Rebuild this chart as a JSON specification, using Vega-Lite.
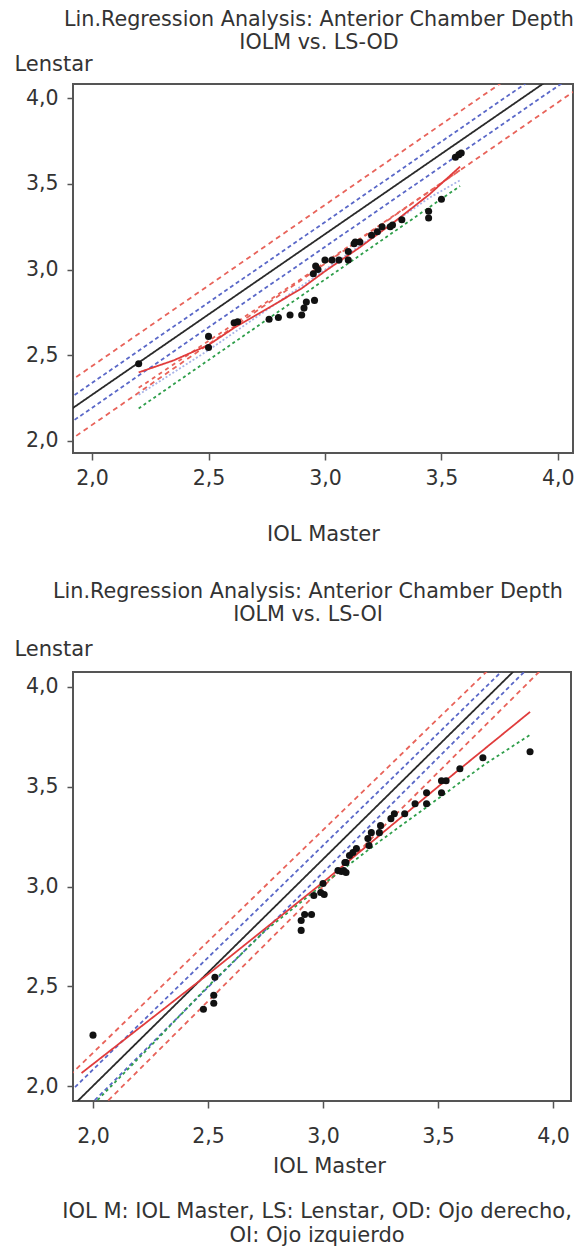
{
  "$schema": "https://vega.github.io/schema/vega-lite/v6.json",
  "background": "white",
  "padding": {"left": 13, "top": 8, "right": 5, "bottom": 3},
  "spacing": 35,
  "datasets": {
    "od_lines": [
      {"line": "PI upper", "x": 1.9, "y": 2.343}, {"line": "PI upper", "x": 4.1, "y": 4.411},
      {"line": "CI upper", "x": 1.9, "y": 2.245}, {"line": "CI upper", "x": 4.1, "y": 4.309},
      {"line": "Regression", "x": 1.9, "y": 2.176}, {"line": "Regression", "x": 4.1, "y": 4.237},
      {"line": "CI lower", "x": 1.9, "y": 2.100}, {"line": "CI lower", "x": 4.1, "y": 4.164},
      {"line": "PI lower", "x": 1.9, "y": 2.0}, {"line": "PI lower", "x": 4.1, "y": 4.068},
      {"line": "Fit upper", "x": 2.2, "y": 2.31}, {"line": "Fit upper", "x": 2.87, "y": 2.92}, {"line": "Fit upper", "x": 3.42, "y": 3.43}, {"line": "Fit upper", "x": 3.58, "y": 3.58},
      {"line": "Fit lower", "x": 2.2, "y": 2.19}, {"line": "Fit lower", "x": 3.58, "y": 3.487},
      {"line": "Fit mid", "x": 2.2, "y": 2.27}, {"line": "Fit mid", "x": 2.5, "y": 2.53}, {"line": "Fit mid", "x": 3.45, "y": 3.42}, {"line": "Fit mid", "x": 3.58, "y": 3.52},
      {"line": "Fit", "x": 2.2, "y": 2.40}, {"line": "Fit", "x": 2.35, "y": 2.47}, {"line": "Fit", "x": 2.5, "y": 2.56}, {"line": "Fit", "x": 2.61, "y": 2.66}, {"line": "Fit", "x": 2.75, "y": 2.77}, {"line": "Fit", "x": 2.9, "y": 2.89}, {"line": "Fit", "x": 3.0, "y": 2.99}, {"line": "Fit", "x": 3.15, "y": 3.13}, {"line": "Fit", "x": 3.3, "y": 3.28}, {"line": "Fit", "x": 3.45, "y": 3.44}, {"line": "Fit", "x": 3.58, "y": 3.60}
    ],
    "od_points": [
      {"x": 2.20, "y": 2.45}, {"x": 2.50, "y": 2.61}, {"x": 2.50, "y": 2.545}, {"x": 2.61, "y": 2.69}, {"x": 2.625, "y": 2.695},
      {"x": 2.76, "y": 2.71}, {"x": 2.80, "y": 2.72}, {"x": 2.85, "y": 2.735}, {"x": 2.90, "y": 2.735}, {"x": 2.91, "y": 2.775},
      {"x": 2.92, "y": 2.81}, {"x": 2.955, "y": 2.82}, {"x": 2.95, "y": 2.975}, {"x": 2.96, "y": 3.02}, {"x": 2.97, "y": 3.0},
      {"x": 3.0, "y": 3.055}, {"x": 3.03, "y": 3.055}, {"x": 3.06, "y": 3.055}, {"x": 3.10, "y": 3.055}, {"x": 3.10, "y": 3.105},
      {"x": 3.125, "y": 3.15}, {"x": 3.13, "y": 3.16}, {"x": 3.15, "y": 3.16}, {"x": 3.20, "y": 3.20}, {"x": 3.225, "y": 3.22},
      {"x": 3.245, "y": 3.25}, {"x": 3.28, "y": 3.25}, {"x": 3.29, "y": 3.26}, {"x": 3.33, "y": 3.29}, {"x": 3.445, "y": 3.30},
      {"x": 3.445, "y": 3.34}, {"x": 3.50, "y": 3.41}, {"x": 3.56, "y": 3.655}, {"x": 3.575, "y": 3.67}, {"x": 3.585, "y": 3.68}
    ],
    "oi_lines": [
      {"line": "PI upper", "x": 1.9, "y": 2.055}, {"line": "PI upper", "x": 4.1, "y": 4.511},
      {"line": "CI upper", "x": 1.9, "y": 1.970}, {"line": "CI upper", "x": 4.1, "y": 4.441},
      {"line": "Regression", "x": 1.9, "y": 1.887}, {"line": "Regression", "x": 4.1, "y": 4.387},
      {"line": "CI lower", "x": 1.9, "y": 1.805}, {"line": "CI lower", "x": 4.1, "y": 4.335},
      {"line": "PI lower", "x": 1.9, "y": 1.737}, {"line": "PI lower", "x": 4.1, "y": 4.260},
      {"line": "Fit lower", "x": 2.02, "y": 1.93}, {"line": "Fit lower", "x": 2.25, "y": 2.2}, {"line": "Fit lower", "x": 2.5, "y": 2.5}, {"line": "Fit lower", "x": 2.75, "y": 2.78}, {"line": "Fit lower", "x": 3.0, "y": 3.01}, {"line": "Fit lower", "x": 3.25, "y": 3.23}, {"line": "Fit lower", "x": 3.5, "y": 3.44}, {"line": "Fit lower", "x": 3.7, "y": 3.61}, {"line": "Fit lower", "x": 3.9, "y": 3.76},
      {"line": "Fit", "x": 1.95, "y": 2.065}, {"line": "Fit", "x": 2.0, "y": 2.11}, {"line": "Fit", "x": 2.5, "y": 2.56}, {"line": "Fit", "x": 3.02, "y": 3.04}, {"line": "Fit", "x": 3.5, "y": 3.5}, {"line": "Fit", "x": 3.9, "y": 3.875}
    ],
    "oi_points": [
      {"x": 2.0, "y": 2.255}, {"x": 2.48, "y": 2.385}, {"x": 2.525, "y": 2.415}, {"x": 2.525, "y": 2.455}, {"x": 2.53, "y": 2.545},
      {"x": 2.905, "y": 2.78}, {"x": 2.905, "y": 2.83}, {"x": 2.92, "y": 2.86}, {"x": 2.95, "y": 2.86}, {"x": 2.96, "y": 2.955},
      {"x": 2.99, "y": 2.97}, {"x": 3.005, "y": 2.96}, {"x": 3.0, "y": 3.015}, {"x": 3.065, "y": 3.08}, {"x": 3.08, "y": 3.075},
      {"x": 3.09, "y": 3.08}, {"x": 3.10, "y": 3.07}, {"x": 3.095, "y": 3.12}, {"x": 3.10, "y": 3.12}, {"x": 3.115, "y": 3.155},
      {"x": 3.13, "y": 3.17}, {"x": 3.145, "y": 3.19}, {"x": 3.195, "y": 3.24}, {"x": 3.2, "y": 3.205}, {"x": 3.21, "y": 3.27},
      {"x": 3.245, "y": 3.27}, {"x": 3.25, "y": 3.305}, {"x": 3.295, "y": 3.34}, {"x": 3.31, "y": 3.365}, {"x": 3.355, "y": 3.365},
      {"x": 3.40, "y": 3.415}, {"x": 3.45, "y": 3.415}, {"x": 3.45, "y": 3.47}, {"x": 3.515, "y": 3.47}, {"x": 3.515, "y": 3.53},
      {"x": 3.535, "y": 3.53}, {"x": 3.595, "y": 3.59}, {"x": 3.695, "y": 3.645}, {"x": 3.90, "y": 3.675}
    ]
  },
  "config": {
    "font": "DejaVu Sans",
    "view": {"stroke": "#555", "strokeWidth": 2},
    "axis": {
      "grid": false, "domain": false, "labelFont": "DejaVu Sans", "labelFontSize": 20.5, "labelColor": "#333",
      "titleFont": "DejaVu Sans", "titleFontSize": 21, "titleFontWeight": "normal", "titleColor": "#333",
      "tickColor": "#555", "tickWidth": 1.5, "tickSize": 7, "labelFlush": false, "labelOverlap": false
    },
    "title": {"font": "DejaVu Sans", "fontSize": 20.7, "fontWeight": "normal", "color": "#333", "lineHeight": 23, "anchor": "middle"}
  },
  "title": {
    "text": ["IOL M: IOL Master, LS: Lenstar, OD: Ojo derecho,", "OI: Ojo izquierdo"],
    "orient": "bottom", "anchor": "middle", "offset": 24, "dx": 23, "fontSize": 21, "lineHeight": 24
  },
  "vconcat": [
    {
      "width": 500, "height": 369,
      "title": {"text": ["Lin.Regression Analysis: Anterior Chamber Depth", "IOLM vs. LS-OD"], "dx": -4, "offset": -1},
      "layer": [
        {
          "data": {"name": "od_lines"},
          "mark": {"type": "line", "clip": true, "strokeWidth": 1.8},
          "encoding": {
            "x": {"field": "x", "type": "quantitative",
              "scale": {"domain": [1.918, 4.065], "nice": false, "zero": false},
              "axis": {"values": [2, 2.5, 3, 3.5, 4], "labelExpr": "replace(format(datum.value, '.1f'), '.', ',')", "labelPadding": 8,
                "title": "IOL Master", "titleY": 87, "titleBaseline": "alphabetic"}},
            "y": {"field": "y", "type": "quantitative",
              "scale": {"domain": [1.93, 4.082], "nice": false, "zero": false},
              "axis": {"values": [2, 2.5, 3, 3.5, 4], "labelExpr": "replace(format(datum.value, '.1f'), '.', ',')", "labelPadding": 9, "tickSize": 6,
                "title": "Lenstar", "titleAngle": 0, "titleAlign": "left", "titleBaseline": "alphabetic", "titleX": -59, "titleY": -14}},
            "color": {"field": "line", "type": "nominal", "legend": null,
              "scale": {"domain": ["PI upper", "CI upper", "Regression", "CI lower", "PI lower", "Fit", "Fit upper", "Fit lower", "Fit mid"],
                "range": ["#e8635a", "#5a68c8", "#2a2a2a", "#5a68c8", "#e8635a", "#e03c3c", "#e8635a", "#2e9e4a", "#a8b4e8"]}},
            "strokeDash": {"field": "line", "type": "nominal", "legend": null,
              "scale": {"domain": ["PI upper", "CI upper", "Regression", "CI lower", "PI lower", "Fit", "Fit upper", "Fit lower", "Fit mid"],
                "range": [[5, 4], [4, 3], [1, 0], [4, 3], [5, 4], [1, 0], [4, 4], [3, 3], [2, 2]]}}
          }
        },
        {
          "data": {"name": "od_points"},
          "mark": {"type": "circle", "size": 50, "color": "#111", "opacity": 1},
          "encoding": {
            "x": {"field": "x", "type": "quantitative"},
            "y": {"field": "y", "type": "quantitative"}
          }
        }
      ]
    },
    {
      "width": 498, "height": 429,
      "title": {"text": ["Lin.Regression Analysis: Anterior Chamber Depth", "IOLM vs. LS-OI"], "dx": -14, "offset": 12},
      "layer": [
        {
          "data": {"name": "oi_lines"},
          "mark": {"type": "line", "clip": true, "strokeWidth": 1.8},
          "encoding": {
            "x": {"field": "x", "type": "quantitative",
              "scale": {"domain": [1.913, 4.078], "nice": false, "zero": false},
              "axis": {"values": [2, 2.5, 3, 3.5, 4], "labelExpr": "replace(format(datum.value, '.1f'), '.', ',')", "labelPadding": 18,
                "title": "IOL Master", "titleY": 71, "titleX": 256, "titleBaseline": "alphabetic"}},
            "y": {"field": "y", "type": "quantitative",
              "scale": {"domain": [1.925, 4.075], "nice": false, "zero": false},
              "axis": {"values": [2, 2.5, 3, 3.5, 4], "labelExpr": "replace(format(datum.value, '.1f'), '.', ',')", "labelPadding": 9, "tickSize": 6,
                "title": "Lenstar", "titleAngle": 0, "titleAlign": "left", "titleBaseline": "alphabetic", "titleX": -59, "titleY": -17}},
            "color": {"field": "line", "type": "nominal", "legend": null,
              "scale": {"domain": ["PI upper", "CI upper", "Regression", "CI lower", "PI lower", "Fit", "Fit lower"],
                "range": ["#e8635a", "#5a68c8", "#2a2a2a", "#5a68c8", "#e8635a", "#e03c3c", "#2e9e4a"]}},
            "strokeDash": {"field": "line", "type": "nominal", "legend": null,
              "scale": {"domain": ["PI upper", "CI upper", "Regression", "CI lower", "PI lower", "Fit", "Fit lower"],
                "range": [[5, 4], [4, 3], [1, 0], [4, 3], [5, 4], [1, 0], [3, 3]]}}
          }
        },
        {
          "data": {"name": "oi_points"},
          "mark": {"type": "circle", "size": 50, "color": "#111", "opacity": 1},
          "encoding": {
            "x": {"field": "x", "type": "quantitative"},
            "y": {"field": "y", "type": "quantitative"}
          }
        }
      ]
    }
  ]
}
